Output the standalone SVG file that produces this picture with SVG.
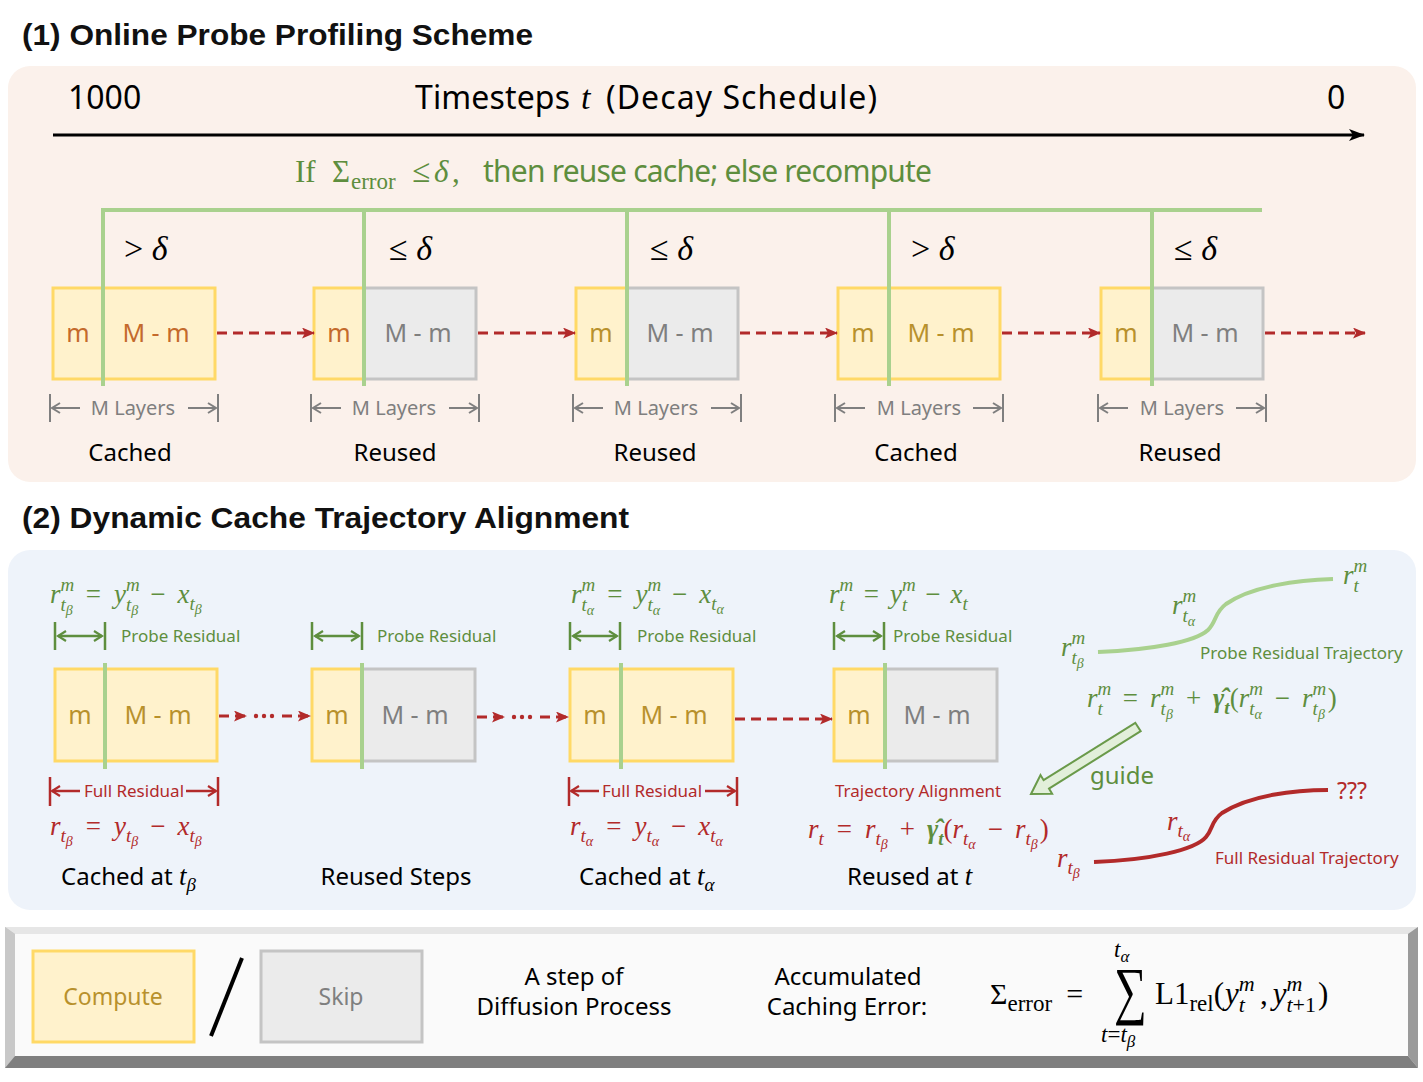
<svg xmlns="http://www.w3.org/2000/svg" width="1423" height="1082" viewBox="0 0 1423 1082">
  <defs>
    <style>
      .title{font-family:"Liberation Sans",Arial,sans-serif;font-weight:bold;font-size:30px;fill:#111}
      .hand{font-family:"Noto Sans","Open Sans",sans-serif}
      .mi{font-family:"Liberation Serif","Times New Roman",serif;font-style:italic}
      .mr{font-family:"Liberation Serif","Times New Roman",serif;font-style:normal}
      .up{font-style:normal}
      .ycell{fill:#FFF2CC;stroke:#FFD966;stroke-width:3}
      .gcell{fill:#EBEBEB;stroke:#C4C4C4;stroke-width:3}
      .split{stroke:#A9D18E;stroke-width:4;fill:none}
      .flow{stroke:#B22A2A;stroke-width:3;stroke-dasharray:10 6;fill:none}
      .cell{font-family:"Noto Sans","Open Sans",sans-serif;font-size:25px;text-anchor:middle}
      .orange{fill:#C46A2C}
      .gold{fill:#B8912C}
      .grey{fill:#7F7F7F}
      .grn{fill:#5E8E3E}
      .red{fill:#B22A2A}
      .blk{fill:#000}
      .tick-gray{stroke:#7F7F7F;stroke-width:2;fill:none}
      .tick-grn{stroke:#5E8E3E;stroke-width:2.5;fill:none}
      .tick-red{stroke:#B22A2A;stroke-width:2.5;fill:none}
      .lbl{font-family:"Noto Sans","Open Sans",sans-serif;font-size:24px;fill:#000}
      .small{font-family:"Noto Sans","Open Sans",sans-serif;font-size:17px}
      .f27{font-size:27px}
      .s19{font-size:19px}
      .s14{font-size:14px}
    </style>
    <marker id="ah-red" markerUnits="userSpaceOnUse" markerWidth="13" markerHeight="11" refX="12" refY="5.5" orient="auto">
      <path d="M0,0 L13,5.5 L0,11 L3,5.5 z" fill="#B22A2A"/>
    </marker>
    <marker id="ah-black" markerUnits="userSpaceOnUse" markerWidth="16" markerHeight="12" refX="15" refY="6" orient="auto">
      <path d="M0,0 L16,6 L0,12 L4,6 z" fill="#000"/>
    </marker>
    <marker id="open-gray" markerUnits="userSpaceOnUse" markerWidth="12" markerHeight="12" refX="10" refY="6" orient="auto">
      <path d="M2,1 L10,6 L2,11" fill="none" stroke="#7F7F7F" stroke-width="2"/>
    </marker>
    <marker id="open-grn" markerUnits="userSpaceOnUse" markerWidth="12" markerHeight="12" refX="10" refY="6" orient="auto-start-reverse">
      <path d="M2,1 L10,6 L2,11" fill="none" stroke="#5E8E3E" stroke-width="2.2"/>
    </marker>
    <marker id="open-red" markerUnits="userSpaceOnUse" markerWidth="12" markerHeight="12" refX="10" refY="6" orient="auto">
      <path d="M2,1 L10,6 L2,11" fill="none" stroke="#B22A2A" stroke-width="2.2"/>
    </marker>
  </defs>

  <rect width="1423" height="1082" fill="#FFFFFF"/>

  <!-- ===== Part 1: online probe profiling ===== -->
  <text class="title" x="22" y="45" textLength="511" lengthAdjust="spacingAndGlyphs">(1) Online Probe Profiling Scheme</text>
  <rect x="8" y="66" width="1408" height="416" rx="22" fill="#FBF1EB"/>

  <g id="timeline">
    <text class="hand" font-size="32" x="68" y="109" fill="#000">1000</text>
    <text class="hand" font-size="32" x="415" y="109" fill="#000" textLength="155">Timesteps</text>
    <text class="mi" font-size="34" x="581" y="109" fill="#000">t</text>
    <text class="hand" font-size="32" x="606" y="109" fill="#000" textLength="271">(Decay Schedule)</text>
    <text class="hand" font-size="32" x="1327" y="109" fill="#000">0</text>
    <line x1="53" y1="135" x2="1364" y2="135" stroke="#000" stroke-width="3" marker-end="url(#ah-black)"/>
  </g>

  <g id="reuse-rule">
    <text class="mr grn" font-size="31" y="182"><tspan x="295">If</tspan><tspan x="332">Σ</tspan><tspan x="351" dy="7" font-size="23">error</tspan><tspan x="412" dy="-7" font-size="33">≤</tspan><tspan x="434" class="mi">δ</tspan><tspan x="452">,</tspan></text>
    <text class="hand grn" font-size="30" x="483" y="182" textLength="449">then reuse cache; else recompute</text>
  </g>

  <!-- threshold labels -->
  <g id="thresholds" class="mr blk" font-size="34">
    <text x="124" y="260">&gt; <tspan class="mi">δ</tspan></text>
    <text x="389" y="260">≤ <tspan class="mi">δ</tspan></text>
    <text x="650" y="260">≤ <tspan class="mi">δ</tspan></text>
    <text x="911" y="260">&gt; <tspan class="mi">δ</tspan></text>
    <text x="1174" y="260">≤ <tspan class="mi">δ</tspan></text>
  </g>

  <g id="p1-step1">
    <rect class="ycell" x="53" y="288" width="50" height="91"/>
    <rect class="ycell" x="103" y="288" width="112" height="91"/>
    <text class="cell orange" x="78" y="342">m</text>
    <text class="cell orange" x="156" y="342">M - m</text>
    <path class="tick-gray" d="M50,394 V422 M218,394 V422"/>
    <line class="tick-gray" x1="80" y1="408" x2="52" y2="408" marker-end="url(#open-gray)"/>
    <line class="tick-gray" x1="188" y1="408" x2="216" y2="408" marker-end="url(#open-gray)"/>
    <text class="hand grey" font-size="20" x="133" y="415" text-anchor="middle">M Layers</text>
    <text class="lbl" x="130" y="461" text-anchor="middle">Cached</text>
  </g>
  <g id="p1-step2">
    <rect class="ycell" x="314" y="288" width="50" height="91"/>
    <rect class="gcell" x="364" y="288" width="112" height="91"/>
    <text class="cell orange" x="339" y="342">m</text>
    <text class="cell grey" x="418" y="342">M - m</text>
    <path class="tick-gray" d="M311,394 V422 M479,394 V422"/>
    <line class="tick-gray" x1="341" y1="408" x2="313" y2="408" marker-end="url(#open-gray)"/>
    <line class="tick-gray" x1="449" y1="408" x2="477" y2="408" marker-end="url(#open-gray)"/>
    <text class="hand grey" font-size="20" x="394" y="415" text-anchor="middle">M Layers</text>
    <text class="lbl" x="395" y="461" text-anchor="middle">Reused</text>
  </g>
  <g id="p1-step3">
    <rect class="ycell" x="576" y="288" width="51" height="91"/>
    <rect class="gcell" x="627" y="288" width="111" height="91"/>
    <text class="cell gold" x="601" y="342">m</text>
    <text class="cell grey" x="680" y="342">M - m</text>
    <path class="tick-gray" d="M573,394 V422 M741,394 V422"/>
    <line class="tick-gray" x1="603" y1="408" x2="575" y2="408" marker-end="url(#open-gray)"/>
    <line class="tick-gray" x1="711" y1="408" x2="739" y2="408" marker-end="url(#open-gray)"/>
    <text class="hand grey" font-size="20" x="656" y="415" text-anchor="middle">M Layers</text>
    <text class="lbl" x="655" y="461" text-anchor="middle">Reused</text>
  </g>
  <g id="p1-step4">
    <rect class="ycell" x="838" y="288" width="51" height="91"/>
    <rect class="ycell" x="889" y="288" width="111" height="91"/>
    <text class="cell gold" x="863" y="342">m</text>
    <text class="cell gold" x="941" y="342">M - m</text>
    <path class="tick-gray" d="M835,394 V422 M1003,394 V422"/>
    <line class="tick-gray" x1="865" y1="408" x2="837" y2="408" marker-end="url(#open-gray)"/>
    <line class="tick-gray" x1="973" y1="408" x2="1001" y2="408" marker-end="url(#open-gray)"/>
    <text class="hand grey" font-size="20" x="919" y="415" text-anchor="middle">M Layers</text>
    <text class="lbl" x="916" y="461" text-anchor="middle">Cached</text>
  </g>
  <g id="p1-step5">
    <rect class="ycell" x="1101" y="288" width="51" height="91"/>
    <rect class="gcell" x="1152" y="288" width="111" height="91"/>
    <text class="cell gold" x="1126" y="342">m</text>
    <text class="cell grey" x="1205" y="342">M - m</text>
    <path class="tick-gray" d="M1098,394 V422 M1266,394 V422"/>
    <line class="tick-gray" x1="1128" y1="408" x2="1100" y2="408" marker-end="url(#open-gray)"/>
    <line class="tick-gray" x1="1236" y1="408" x2="1264" y2="408" marker-end="url(#open-gray)"/>
    <text class="hand grey" font-size="20" x="1182" y="415" text-anchor="middle">M Layers</text>
    <text class="lbl" x="1180" y="461" text-anchor="middle">Reused</text>
  </g>

  <g id="p1-connectors">
    <path class="split" d="M103,386 V210 H1262 M364,210 V386 M627,210 V386 M889,210 V386 M1152,210 V386"/>
    <line class="flow" x1="217" y1="333" x2="314" y2="333" marker-end="url(#ah-red)"/>
    <line class="flow" x1="478" y1="333" x2="575" y2="333" marker-end="url(#ah-red)"/>
    <line class="flow" x1="740" y1="333" x2="837" y2="333" marker-end="url(#ah-red)"/>
    <line class="flow" x1="1002" y1="333" x2="1100" y2="333" marker-end="url(#ah-red)"/>
    <line class="flow" x1="1265" y1="333" x2="1365" y2="333" marker-end="url(#ah-red)"/>
  </g>

  <!-- ===== Part 2: dynamic cache trajectory alignment ===== -->
  <text class="title" x="22" y="528" textLength="607" lengthAdjust="spacingAndGlyphs">(2) Dynamic Cache Trajectory Alignment</text>
  <rect x="8" y="550" width="1408" height="360" rx="22" fill="#EEF3FA"/>

  <g id="p2-cached-tb">
    <text class="mi grn f27" x="50" y="603">r<tspan class="s19" dy="-12">m</tspan><tspan class="s19" dx="-13.7" dy="20">t</tspan><tspan class="s14" dy="4">β</tspan><tspan class="up" dx="13" dy="-12">=</tspan><tspan dx="13">y</tspan><tspan class="s19" dy="-12">m</tspan><tspan class="s19" dx="-13.7" dy="20">t</tspan><tspan class="s14" dy="4">β</tspan><tspan class="up" dx="12" dy="-12">−</tspan><tspan dx="12">x</tspan><tspan class="s19" dy="7">t</tspan><tspan class="s14" dy="4">β</tspan></text>
    <path class="tick-grn" d="M55,622 V650 M105,622 V650"/>
    <line class="tick-grn" x1="58" y1="636" x2="102" y2="636" marker-start="url(#open-grn)" marker-end="url(#open-grn)"/>
    <text class="small grn" x="121" y="642">Probe Residual</text>
    <rect class="ycell" x="55" y="669" width="50" height="92"/>
    <rect class="ycell" x="105" y="669" width="112" height="92"/>
    <text class="cell gold" x="80" y="724">m</text>
    <text class="cell gold" x="158" y="724">M - m</text>
    <path class="tick-red" d="M50,777 V806 M218,777 V806"/>
    <line class="tick-red" x1="80" y1="791" x2="52" y2="791" marker-end="url(#open-red)"/>
    <line class="tick-red" x1="186" y1="791" x2="216" y2="791" marker-end="url(#open-red)"/>
    <text class="small red" x="134" y="797" text-anchor="middle">Full Residual</text>
    <text class="mi red f27" x="50" y="835">r<tspan class="s19" dy="7">t</tspan><tspan class="s14" dy="4">β</tspan><tspan class="up" dx="13" dy="-11">=</tspan><tspan dx="13">y</tspan><tspan class="s19" dy="7">t</tspan><tspan class="s14" dy="4">β</tspan><tspan class="up" dx="12" dy="-11">−</tspan><tspan dx="12">x</tspan><tspan class="s19" dy="7">t</tspan><tspan class="s14" dy="4">β</tspan></text>
    <text class="lbl" x="61" y="885">Cached at <tspan class="mi" font-size="27">t</tspan><tspan class="mi" font-size="19" dy="6">β</tspan></text>
  </g>

  <g id="p2-reused-steps">
    <path class="tick-grn" d="M312,622 V650 M362,622 V650"/>
    <line class="tick-grn" x1="315" y1="636" x2="359" y2="636" marker-start="url(#open-grn)" marker-end="url(#open-grn)"/>
    <text class="small grn" x="377" y="642">Probe Residual</text>
    <rect class="ycell" x="312" y="669" width="50" height="92"/>
    <rect class="gcell" x="362" y="669" width="113" height="92"/>
    <text class="cell gold" x="337" y="724">m</text>
    <text class="cell grey" x="415" y="724">M - m</text>
    <text class="lbl" x="396" y="885" text-anchor="middle">Reused Steps</text>
  </g>

  <g id="p2-cached-ta">
    <text class="mi grn f27" x="571" y="603">r<tspan class="s19" dy="-12">m</tspan><tspan class="s19" dx="-13.7" dy="20">t</tspan><tspan class="s14" dy="4">α</tspan><tspan class="up" dx="13" dy="-12">=</tspan><tspan dx="13">y</tspan><tspan class="s19" dy="-12">m</tspan><tspan class="s19" dx="-13.7" dy="20">t</tspan><tspan class="s14" dy="4">α</tspan><tspan class="up" dx="12" dy="-12">−</tspan><tspan dx="12">x</tspan><tspan class="s19" dy="7">t</tspan><tspan class="s14" dy="4">α</tspan></text>
    <path class="tick-grn" d="M570,622 V650 M620,622 V650"/>
    <line class="tick-grn" x1="573" y1="636" x2="617" y2="636" marker-start="url(#open-grn)" marker-end="url(#open-grn)"/>
    <text class="small grn" x="637" y="642">Probe Residual</text>
    <rect class="ycell" x="570" y="669" width="51" height="92"/>
    <rect class="ycell" x="621" y="669" width="112" height="92"/>
    <text class="cell gold" x="595" y="724">m</text>
    <text class="cell gold" x="674" y="724">M - m</text>
    <path class="tick-red" d="M569,777 V806 M737,777 V806"/>
    <line class="tick-red" x1="599" y1="791" x2="571" y2="791" marker-end="url(#open-red)"/>
    <line class="tick-red" x1="705" y1="791" x2="735" y2="791" marker-end="url(#open-red)"/>
    <text class="small red" x="652" y="797" text-anchor="middle">Full Residual</text>
    <text class="mi red f27" x="570" y="835">r<tspan class="s19" dy="7">t</tspan><tspan class="s14" dy="4">α</tspan><tspan class="up" dx="13" dy="-11">=</tspan><tspan dx="13">y</tspan><tspan class="s19" dy="7">t</tspan><tspan class="s14" dy="4">α</tspan><tspan class="up" dx="12" dy="-11">−</tspan><tspan dx="12">x</tspan><tspan class="s19" dy="7">t</tspan><tspan class="s14" dy="4">α</tspan></text>
    <text class="lbl" x="579" y="885">Cached at <tspan class="mi" font-size="27">t</tspan><tspan class="mi" font-size="19" dy="6">α</tspan></text>
  </g>

  <g id="p2-reused-t">
    <text class="mi grn f27" x="829" y="603">r<tspan class="s19" dy="-12">m</tspan><tspan class="s19" dx="-13.7" dy="20">t</tspan><tspan class="up" dx="19" dy="-8">=</tspan><tspan dx="11">y</tspan><tspan class="s19" dy="-12">m</tspan><tspan class="s19" dx="-13.7" dy="20">t</tspan><tspan class="up" dx="18" dy="-8">−</tspan><tspan dx="10">x</tspan><tspan class="s19" dy="7">t</tspan></text>
    <path class="tick-grn" d="M834,622 V650 M884,622 V650"/>
    <line class="tick-grn" x1="837" y1="636" x2="881" y2="636" marker-start="url(#open-grn)" marker-end="url(#open-grn)"/>
    <text class="small grn" x="893" y="642">Probe Residual</text>
    <rect class="ycell" x="834" y="669" width="51" height="92"/>
    <rect class="gcell" x="885" y="669" width="112" height="92"/>
    <text class="cell gold" x="859" y="724">m</text>
    <text class="cell grey" x="937" y="724">M - m</text>
    <text class="small red" x="835" y="797">Trajectory Alignment</text>
    <text class="mi red f27" x="808" y="838">r<tspan class="s19" dy="7">t</tspan><tspan class="up" dx="13" dy="-7">=</tspan><tspan dx="13">r</tspan><tspan class="s19" dy="7">t</tspan><tspan class="s14" dy="4">β</tspan><tspan class="up" dx="12" dy="-11">+</tspan><tspan dx="12" class="grn" font-weight="bold">γ̂</tspan><tspan class="s19 grn" dy="7" font-weight="bold">t</tspan><tspan class="up" dy="-7">(</tspan><tspan>r</tspan><tspan class="s19" dy="7">t</tspan><tspan class="s14" dy="4">α</tspan><tspan class="up" dx="12" dy="-11">−</tspan><tspan dx="12">r</tspan><tspan class="s19" dy="7">t</tspan><tspan class="s14" dy="4">β</tspan><tspan class="up" dx="2" dy="-11">)</tspan></text>
    <text class="lbl" x="847" y="885">Reused at <tspan class="mi" font-size="27">t</tspan></text>
  </g>

  <g id="p2-connectors">
    <path class="split" d="M105,663 V769 M362,663 V769 M621,663 V769 M885,663 V769"/>
    <line class="flow" x1="219" y1="716" x2="246" y2="716" stroke-dasharray="10 5" marker-end="url(#ah-red)"/>
    <g class="red"><circle cx="256" cy="716" r="2.2"/><circle cx="264" cy="716" r="2.2"/><circle cx="272" cy="716" r="2.2"/></g>
    <line class="flow" x1="282" y1="716" x2="310" y2="716" stroke-dasharray="10 5" marker-end="url(#ah-red)"/>
    <line class="flow" x1="477" y1="717" x2="504" y2="717" stroke-dasharray="10 5" marker-end="url(#ah-red)"/>
    <g class="red"><circle cx="514" cy="717" r="2.2"/><circle cx="522" cy="717" r="2.2"/><circle cx="530" cy="717" r="2.2"/></g>
    <line class="flow" x1="540" y1="717" x2="568" y2="717" stroke-dasharray="10 5" marker-end="url(#ah-red)"/>
    <line class="flow" x1="735" y1="719" x2="832" y2="719" marker-end="url(#ah-red)"/>
  </g>

  <g id="probe-trajectory">
    <path d="M1098,652 C1150,650 1195,642 1208,630 C1217,621 1214,613 1226,604 C1252,586 1298,580 1333,579" fill="none" stroke="#A9D18E" stroke-width="4"/>
    <text class="mi grn f27" x="1343" y="584">r<tspan class="s19" dy="-12">m</tspan><tspan class="s19" dx="-13.7" dy="20">t</tspan></text>
    <text class="mi grn f27" x="1172" y="614">r<tspan class="s19" dy="-12">m</tspan><tspan class="s19" dx="-13.7" dy="20">t</tspan><tspan class="s14" dy="4">α</tspan></text>
    <text class="mi grn f27" x="1061" y="656">r<tspan class="s19" dy="-12">m</tspan><tspan class="s19" dx="-13.7" dy="20">t</tspan><tspan class="s14" dy="4">β</tspan></text>
    <text class="small grn" x="1200" y="659">Probe Residual Trajectory</text>
    <text class="mi grn f27" x="1087" y="707">r<tspan class="s19" dy="-12">m</tspan><tspan class="s19" dx="-13.7" dy="20">t</tspan><tspan class="up" dx="20" dy="-8">=</tspan><tspan dx="12">r</tspan><tspan class="s19" dy="-12">m</tspan><tspan class="s19" dx="-13.7" dy="20">t</tspan><tspan class="s14" dy="4">β</tspan><tspan class="up" dx="13" dy="-12">+</tspan><tspan dx="12" font-weight="bold">γ̂</tspan><tspan class="s19" dy="7" font-weight="bold">t</tspan><tspan class="up" dy="-7">(</tspan><tspan>r</tspan><tspan class="s19" dy="-12">m</tspan><tspan class="s19" dx="-13.7" dy="20">t</tspan><tspan class="s14" dy="4">α</tspan><tspan class="up" dx="13" dy="-12">−</tspan><tspan dx="12">r</tspan><tspan class="s19" dy="-12">m</tspan><tspan class="s19" dx="-13.7" dy="20">t</tspan><tspan class="s14" dy="4">β</tspan><tspan class="up" dx="3" dy="-12">)</tspan></text>
  </g>

  <g id="guide-arrow">
    <polygon points="1140.7,731.2 1049,788.6 1052.1,793.7 1031,794 1040.5,775.1 1043.6,780.2 1135.3,722.8" fill="#E2EFDA" stroke="#6A9A4A" stroke-width="2" stroke-linejoin="miter"/>
    <text class="hand grn" font-size="24" x="1090" y="784">guide</text>
  </g>

  <g id="full-trajectory">
    <path d="M1094,862 C1150,860 1195,850 1206,837 C1213,829 1211,821 1222,813 C1250,795 1295,790 1328,790" fill="none" stroke="#B22A2A" stroke-width="4"/>
    <text class="hand red" font-size="23" x="1337" y="799">???</text>
    <text class="mi red f27" x="1167" y="830">r<tspan class="s19" dy="7">t</tspan><tspan class="s14" dy="4">α</tspan></text>
    <text class="mi red f27" x="1057" y="867">r<tspan class="s19" dy="7">t</tspan><tspan class="s14" dy="4">β</tspan></text>
    <text class="small red" x="1215" y="864">Full Residual Trajectory</text>
  </g>

  <!-- ===== Legend bar (bevelled panel) ===== -->
  <g id="legend">
    <rect x="5" y="927" width="1413" height="141" fill="#D0D0D0"/>
    <polygon points="5,927 1418,927 1408,934 15,934" fill="#E6E6E6"/>
    <polygon points="5,927 15,934 15,1056 5,1068" fill="#C8C8C8"/>
    <polygon points="5,1068 15,1056 1408,1056 1418,1068" fill="#7F7F7F"/>
    <polygon points="1418,927 1418,1068 1408,1056 1408,934" fill="#9A9A9A"/>
    <rect x="15" y="934" width="1393" height="122" fill="#FAFAFA"/>

    <rect class="ycell" x="33" y="951" width="161" height="91"/>
    <text class="hand gold" font-size="23" x="113" y="1005" text-anchor="middle">Compute</text>
    <line x1="242" y1="958" x2="211" y2="1036" stroke="#000" stroke-width="4"/>
    <rect class="gcell" x="261" y="951" width="161" height="91"/>
    <text class="hand grey" font-size="23" x="341" y="1005" text-anchor="middle">Skip</text>

    <text class="lbl" x="574" y="985" text-anchor="middle">A step of</text>
    <text class="lbl" x="574" y="1015" text-anchor="middle">Diffusion Process</text>
    <text class="lbl" x="848" y="985" text-anchor="middle">Accumulated</text>
    <text class="lbl" x="847" y="1015" text-anchor="middle">Caching Error:</text>

    <!-- accumulated error: sum of relative L1 changes of the probe output -->
    <text class="mr blk" font-size="30" x="990" y="1004">Σ<tspan font-size="23" dy="7">error</tspan><tspan dx="14" dy="-7">=</tspan></text>
    <text class="mr blk" font-size="46" transform="translate(1114,1012) scale(1,1.4)">∑</text>
    <text class="mi blk" font-size="23" x="1114" y="957">t<tspan font-size="17" dy="5">α</tspan></text>
    <text class="mi blk" font-size="23" x="1101" y="1042">t<tspan class="up">=</tspan>t<tspan font-size="17" dy="5">β</tspan></text>
    <text class="mr blk" font-size="31" x="1155" y="1004">L1<tspan font-size="23" dy="7">rel</tspan><tspan dy="-7">(</tspan><tspan class="mi" dx="1">y</tspan><tspan class="mi" font-size="22" dy="-13">m</tspan><tspan class="mi" font-size="22" dx="-15.9" dy="21">t</tspan><tspan dx="15" dy="-8">,</tspan><tspan class="mi" dx="5">y</tspan><tspan class="mi" font-size="22" dy="-13">m</tspan><tspan class="mi" font-size="22" dx="-15.9" dy="21">t</tspan><tspan font-size="22">+1</tspan><tspan dx="2" dy="-8">)</tspan></text>
  </g>
</svg>
